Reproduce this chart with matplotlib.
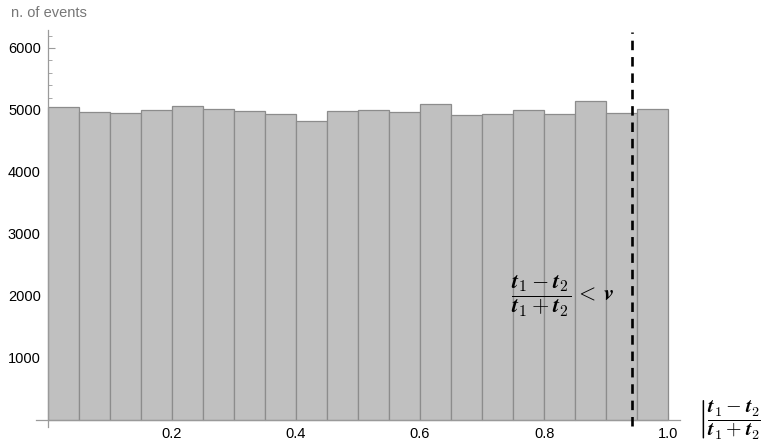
import matplotlib.pyplot as plt
import numpy as np
from matplotlib.ticker import MultipleLocator

plt.rcParams['font.family'] = ['Liberation Sans', 'DejaVu Sans']
plt.rcParams['mathtext.fontset'] = 'cm'

# histogram of |t1-t2|/(t1+t2), 20 bins on [0, 1]
bin_edges = np.linspace(0, 1, 21)
counts = [5042, 4968, 4952, 5000, 5064, 5021, 4989, 4935, 4823, 4984,
          5000, 4968, 5097, 4919, 4935, 5000, 4935, 5145, 4952, 5016]
v_cut = 0.942
x_ticks = [0.2, 0.4, 0.6, 0.8, 1.0]
y_ticks = [1000, 2000, 3000, 4000, 5000, 6000]

fig = plt.figure(figsize=(7.61, 4.44), dpi=100)
ax = fig.add_axes([36/761, 17/444, (680-36)/761, (427-30)/444])

axis_gray = '#9a9a9a'
ax.bar(bin_edges[:-1], counts, width=np.diff(bin_edges), align='edge',
       color='#c0c0c0', edgecolor='#8c8c8c', linewidth=0.9, zorder=2)

ax.set_xlim(-0.019, 1.019)
ax.set_ylim(-113, 6290)

for s in ['top', 'right']:
    ax.spines[s].set_visible(False)
ax.spines['left'].set_position(('data', 0))
ax.spines['bottom'].set_position(('data', 0))
for s in ['left', 'bottom']:
    ax.spines[s].set_color(axis_gray)
    ax.spines[s].set_linewidth(0.9)
    ax.spines[s].set_zorder(3)

ax.set_xticks(x_ticks)
ax.set_xticklabels(['%.1f' % t for t in x_ticks])
ax.set_yticks(y_ticks)
ax.xaxis.set_minor_locator(MultipleLocator(0.05))
ax.yaxis.set_minor_locator(MultipleLocator(200))
ax.tick_params(which='major', direction='in', length=5, color=axis_gray,
               labelsize=10.5, pad=5)
ax.tick_params(which='minor', direction='in', length=3, color=axis_gray)

# cut line
ax.plot([v_cut, v_cut], [-100, 6260], color='black', linestyle=(0, (3.6, 2.6)),
        linewidth=1.9, zorder=4, clip_on=False)

ax.text(0.746, 1990,
        r'$\dfrac{\boldsymbol{t}_1-\boldsymbol{t}_2}{\boldsymbol{t}_1+\boldsymbol{t}_2}\,<\,\boldsymbol{v}$',
        fontsize=16, ha='left', va='center', zorder=5)

fig.text(11/761, 1 - 13/444, 'n. of events', color='#777777', fontsize=10.5,
         ha='left', va='center')
fig.text(697/761, 1 - 419/444,
         r'$\left|\dfrac{\boldsymbol{t}_1-\boldsymbol{t}_2}{\boldsymbol{t}_1+\boldsymbol{t}_2}\right|$',
         fontsize=14.5, ha='left', va='center')

fig.savefig('out.png', dpi=100)
